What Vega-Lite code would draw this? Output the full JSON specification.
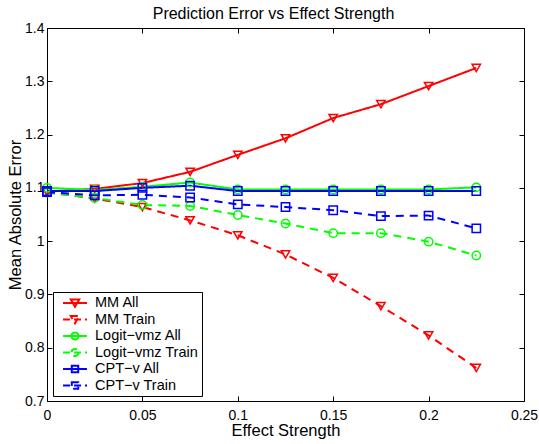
{
  "$schema": "https://vega.github.io/schema/vega-lite/v6.json",
  "autosize": "none",
  "padding": {"left": 47, "top": 28, "right": 15, "bottom": 43},
  "width": 477,
  "height": 373,
  "background": "white",
  "title": {"text": "Prediction Error vs Effect Strength", "font": "Liberation Sans", "fontSize": 16, "fontWeight": "normal", "color": "black", "offset": 2, "dy": 15.5, "baseline": "alphabetic", "dx": -12},
  "data": {"values": [
    {"x": 0, "y": 1.093, "series": "MM All"},
    {"x": 0.025, "y": 1.098, "series": "MM All"},
    {"x": 0.05, "y": 1.109, "series": "MM All"},
    {"x": 0.075, "y": 1.130, "series": "MM All"},
    {"x": 0.1, "y": 1.162, "series": "MM All"},
    {"x": 0.125, "y": 1.193, "series": "MM All"},
    {"x": 0.15, "y": 1.231, "series": "MM All"},
    {"x": 0.175, "y": 1.257, "series": "MM All"},
    {"x": 0.2, "y": 1.291, "series": "MM All"},
    {"x": 0.225, "y": 1.325, "series": "MM All"},
    {"x": 0, "y": 1.092, "series": "MM Train"},
    {"x": 0.025, "y": 1.080, "series": "MM Train"},
    {"x": 0.05, "y": 1.064, "series": "MM Train"},
    {"x": 0.075, "y": 1.039, "series": "MM Train"},
    {"x": 0.1, "y": 1.011, "series": "MM Train"},
    {"x": 0.125, "y": 0.975, "series": "MM Train"},
    {"x": 0.15, "y": 0.931, "series": "MM Train"},
    {"x": 0.175, "y": 0.878, "series": "MM Train"},
    {"x": 0.2, "y": 0.823, "series": "MM Train"},
    {"x": 0.225, "y": 0.762, "series": "MM Train"},
    {"x": 0, "y": 1.100, "series": "Logit−vmz All"},
    {"x": 0.025, "y": 1.096, "series": "Logit−vmz All"},
    {"x": 0.05, "y": 1.102, "series": "Logit−vmz All"},
    {"x": 0.075, "y": 1.110, "series": "Logit−vmz All"},
    {"x": 0.1, "y": 1.097, "series": "Logit−vmz All"},
    {"x": 0.125, "y": 1.097, "series": "Logit−vmz All"},
    {"x": 0.15, "y": 1.097, "series": "Logit−vmz All"},
    {"x": 0.175, "y": 1.097, "series": "Logit−vmz All"},
    {"x": 0.2, "y": 1.097, "series": "Logit−vmz All"},
    {"x": 0.225, "y": 1.101, "series": "Logit−vmz All"},
    {"x": 0, "y": 1.091, "series": "Logit−vmz Train"},
    {"x": 0.025, "y": 1.081, "series": "Logit−vmz Train"},
    {"x": 0.05, "y": 1.068, "series": "Logit−vmz Train"},
    {"x": 0.075, "y": 1.066, "series": "Logit−vmz Train"},
    {"x": 0.1, "y": 1.049, "series": "Logit−vmz Train"},
    {"x": 0.125, "y": 1.033, "series": "Logit−vmz Train"},
    {"x": 0.15, "y": 1.015, "series": "Logit−vmz Train"},
    {"x": 0.175, "y": 1.015, "series": "Logit−vmz Train"},
    {"x": 0.2, "y": 0.999, "series": "Logit−vmz Train"},
    {"x": 0.225, "y": 0.973, "series": "Logit−vmz Train"},
    {"x": 0, "y": 1.094, "series": "CPT−v All"},
    {"x": 0.025, "y": 1.094, "series": "CPT−v All"},
    {"x": 0.05, "y": 1.100, "series": "CPT−v All"},
    {"x": 0.075, "y": 1.104, "series": "CPT−v All"},
    {"x": 0.1, "y": 1.094, "series": "CPT−v All"},
    {"x": 0.125, "y": 1.094, "series": "CPT−v All"},
    {"x": 0.15, "y": 1.094, "series": "CPT−v All"},
    {"x": 0.175, "y": 1.094, "series": "CPT−v All"},
    {"x": 0.2, "y": 1.094, "series": "CPT−v All"},
    {"x": 0.225, "y": 1.094, "series": "CPT−v All"},
    {"x": 0, "y": 1.092, "series": "CPT−v Train"},
    {"x": 0.025, "y": 1.086, "series": "CPT−v Train"},
    {"x": 0.05, "y": 1.087, "series": "CPT−v Train"},
    {"x": 0.075, "y": 1.082, "series": "CPT−v Train"},
    {"x": 0.1, "y": 1.069, "series": "CPT−v Train"},
    {"x": 0.125, "y": 1.064, "series": "CPT−v Train"},
    {"x": 0.15, "y": 1.058, "series": "CPT−v Train"},
    {"x": 0.175, "y": 1.047, "series": "CPT−v Train"},
    {"x": 0.2, "y": 1.048, "series": "CPT−v Train"},
    {"x": 0.225, "y": 1.024, "series": "CPT−v Train"}
  ]},
  "layer": [
    {
      "mark": {"type": "line", "strokeWidth": 2},
      "encoding": {
        "x": {"field": "x", "type": "quantitative", "scale": {"domain": [0, 0.25], "nice": false, "zero": false},
          "axis": {"orient": "bottom", "values": [0, 0.05, 0.1, 0.15, 0.2, 0.25], "format": "~g", "tickSize": -5, "tickColor": "black", "tickWidth": 1, "labelPadding": 12, "labelFont": "Liberation Sans", "labelFontSize": 14, "labelColor": "black", "labelFlush": false, "labelOverlap": false, "labelBound": false, "domain": false, "grid": false, "title": "Effect Strength", "titleFont": "Liberation Sans", "titleFontSize": 16.5, "titleFontWeight": "normal", "titleColor": "black", "titleBaseline": "alphabetic", "titleY": 34, "titleX": 238.5, "titleAlign": "center"}},
        "y": {"field": "y", "type": "quantitative", "scale": {"domain": [0.7, 1.4], "nice": false, "zero": false},
          "axis": {"orient": "left", "values": [0.7, 0.8, 0.9, 1, 1.1, 1.2, 1.3, 1.4], "format": "~g", "tickSize": -5, "tickColor": "black", "tickWidth": 1, "labelPadding": 8, "labelFont": "Liberation Sans", "labelFontSize": 14, "labelColor": "black", "labelFlush": false, "labelOverlap": false, "labelBound": false, "domain": false, "grid": false, "title": "Mean Absolute Error", "titleFont": "Liberation Sans", "titleFontSize": 16.5, "titleFontWeight": "normal", "titleColor": "black", "titleBaseline": "alphabetic", "titleAngle": -90, "titleX": -27, "titleY": 186.5, "titleAlign": "center"}},
        "color": {"field": "series", "type": "nominal",
          "scale": {"domain": ["MM All", "MM Train", "Logit−vmz All", "Logit−vmz Train", "CPT−v All", "CPT−v Train"], "range": ["#ff0000", "#ff0000", "#00ff00", "#00ff00", "#0000ff", "#0000ff"]},
          "legend": null},
        "strokeDash": {"field": "series", "type": "nominal",
          "scale": {"domain": ["MM All", "MM Train", "Logit−vmz All", "Logit−vmz Train", "CPT−v All", "CPT−v Train"], "range": [[1, 0], [8, 6], [1, 0], [8, 6], [1, 0], [8, 6]]},
          "legend": null}
      }
    },
    {
      "mark": {"type": "point", "filled": false, "strokeWidth": 1.5, "size": 70, "opacity": 1},
      "encoding": {
        "x": {"field": "x", "type": "quantitative", "scale": {"domain": [0, 0.25], "nice": false, "zero": false},
          "axis": {"orient": "top", "values": [0, 0.05, 0.1, 0.15, 0.2, 0.25], "labels": false, "tickSize": -5, "tickColor": "black", "tickWidth": 1, "domain": false, "grid": false, "title": null}},
        "y": {"field": "y", "type": "quantitative", "scale": {"domain": [0.7, 1.4], "nice": false, "zero": false},
          "axis": {"orient": "right", "values": [0.7, 0.8, 0.9, 1, 1.1, 1.2, 1.3, 1.4], "labels": false, "tickSize": -5, "tickColor": "black", "tickWidth": 1, "domain": false, "grid": false, "title": null}},
        "color": {"field": "series", "type": "nominal",
          "scale": {"domain": ["MM All", "MM Train", "Logit−vmz All", "Logit−vmz Train", "CPT−v All", "CPT−v Train"], "range": ["#ff0000", "#ff0000", "#00ff00", "#00ff00", "#0000ff", "#0000ff"]},
          "legend": null},
        "shape": {"field": "series", "type": "nominal",
          "scale": {"domain": ["MM All", "MM Train", "Logit−vmz All", "Logit−vmz Train", "CPT−v All", "CPT−v Train"], "range": ["triangle-down", "triangle-down", "circle", "circle", "square", "square"]},
          "legend": null}
      }
    },
    {
      "mark": {"type": "point", "filled": false, "strokeWidth": 2, "opacity": 0},
      "encoding": {
        "x": {"field": "x", "type": "quantitative", "axis": null},
        "y": {"field": "y", "type": "quantitative", "axis": null},
        "color": {"field": "series", "type": "nominal",
          "scale": {"domain": ["MM All", "MM Train", "Logit−vmz All", "Logit−vmz Train", "CPT−v All", "CPT−v Train"], "range": ["#ff0000", "#ff0000", "#00ff00", "#00ff00", "#0000ff", "#0000ff"]},
          "legend": {"title": null, "orient": "none", "legendX": 6, "legendY": 264}},
        "strokeDash": {"field": "series", "type": "nominal",
          "scale": {"domain": ["MM All", "MM Train", "Logit−vmz All", "Logit−vmz Train", "CPT−v All", "CPT−v Train"], "range": [[1, 0], [7, 4], [1, 0], [7, 4], [1, 0], [7, 4]]},
          "legend": {"title": null, "orient": "none", "legendX": 6, "legendY": 264}},
        "shape": {"field": "series", "type": "nominal",
          "scale": {"domain": ["MM All", "MM Train", "Logit−vmz All", "Logit−vmz Train", "CPT−v All", "CPT−v Train"], "range": ["M-1.71,0H1.71M-0.6,-0.5H0.6L0,0.55Z", "M-1.71,0H1.71M-0.6,-0.5H0.6L0,0.55Z", "M-1.71,0H1.71M0.5,0A0.5,0.5,0,1,1,-0.5,0A0.5,0.5,0,1,1,0.5,0", "M-1.71,0H1.71M0.5,0A0.5,0.5,0,1,1,-0.5,0A0.5,0.5,0,1,1,0.5,0", "M-1.71,0H1.71M-0.46,-0.46H0.46V0.46H-0.46Z", "M-1.71,0H1.71M-0.46,-0.46H0.46V0.46H-0.46Z"]},
          "legend": {"title": null, "orient": "none", "legendX": 6, "legendY": 264}}
      }
    }
  ],
  "resolve": {"scale": {"shape": "independent", "color": "independent", "strokeDash": "independent"}, "axis": {"x": "independent", "y": "independent"}},
  "config": {
    "view": {"stroke": "black", "strokeWidth": 1},
    "legend": {"fillColor": "white", "strokeColor": "black", "padding": 3, "symbolOffset": 11, "labelOffset": 12, "labelFont": "Liberation Sans", "labelFontSize": 14.5, "labelColor": "black", "rowPadding": 0.5, "symbolSize": 196, "symbolOpacity": 1, "symbolStrokeWidth": 2, "symbolFillColor": "transparent", "labelExpr": "datum.label + ' '"}
  }
}
